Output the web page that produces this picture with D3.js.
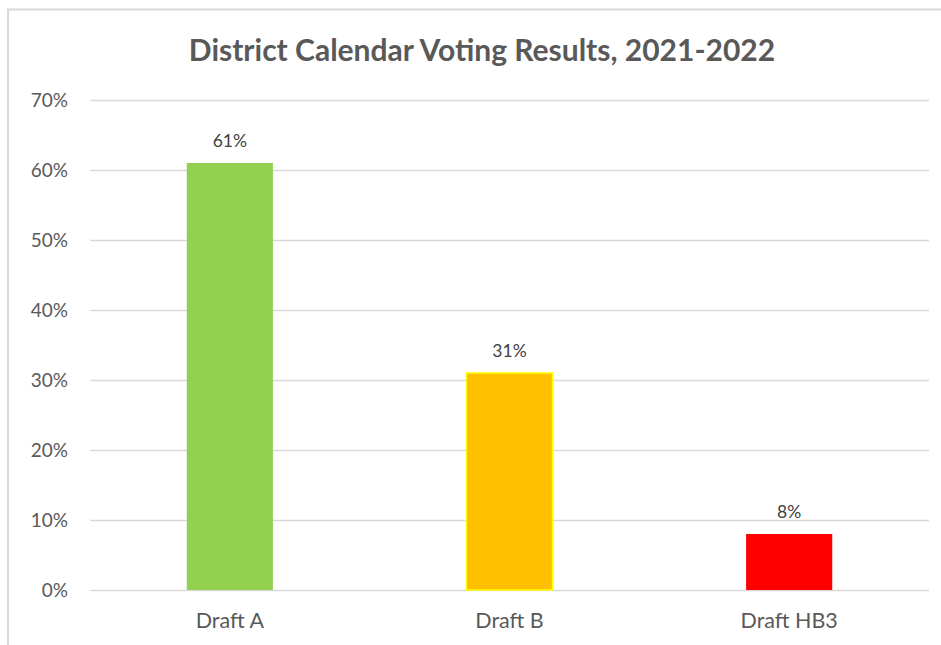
<!DOCTYPE html>
<html>
<head>
<meta charset="utf-8">
<script src="https://cdn.jsdelivr.net/npm/d3@7"></script>
<style>
  html, body { margin: 0; padding: 0; background: #fff; }
  svg { display: block; }
  text { font-family: Lato, "Open Sans", "Liberation Sans", sans-serif; }
</style>
</head>
<body>
<svg id="chart" width="941" height="645"></svg>
<script>
// Voting results per calendar draft
const categories = ["Draft A", "Draft B", "Draft HB3"];
const shares = [0.61, 0.31, 0.08];
const barFill = ["#92D050", "#FFC000", "#FF0000"];
const barStroke = ["none", "#FFFF00", "none"];
const yTicks = [0, 0.1, 0.2, 0.3, 0.4, 0.5, 0.6, 0.7];
const title = "District Calendar Voting Results, 2021-2022";

const svg = d3.select("#chart");
const W = 941, H = 645;
const plot = { left: 90, right: 929, top: 100, bottom: 590 };

// Chart area frame (only top and left edges fall inside the view)
svg.append("rect")
  .attr("x", 8).attr("y", 9.5)
  .attr("width", W + 10).attr("height", H + 10)
  .attr("fill", "#fff")
  .attr("stroke", "#d9d9d9").attr("stroke-width", 2);

const x = d3.scaleBand()
  .domain(categories)
  .range([plot.left, plot.right])
  .paddingInner(0.692)
  .paddingOuter(0.346);

const y = d3.scaleLinear()
  .domain([0, 0.7])
  .range([plot.bottom, plot.top]);

// Horizontal gridlines
svg.append("g")
  .selectAll("line")
  .data(yTicks)
  .join("line")
  .attr("x1", plot.left).attr("x2", plot.right)
  .attr("y1", d => Math.round(y(d)) + 0.5)
  .attr("y2", d => Math.round(y(d)) + 0.5)
  .attr("stroke", "#d9d9d9")
  .attr("stroke-width", 1.3);

// Y axis labels
const yAxis = d3.axisLeft(y)
  .tickValues(yTicks)
  .tickFormat(d3.format(".0%"))
  .tickSize(0)
  .tickPadding(22);
const gy = svg.append("g")
  .attr("transform", `translate(${plot.left},0)`)
  .call(yAxis);
gy.select(".domain").remove();
gy.selectAll("text")
  .attr("fill", "#595959")
  .style("font-size", "19px")
  .style("font-family", "Lato, 'Open Sans', sans-serif");

// Bars
svg.append("g")
  .selectAll("rect")
  .data(categories)
  .join("rect")
  .attr("x", d => x(d))
  .attr("width", x.bandwidth())
  .attr("y", (d, i) => y(shares[i]))
  .attr("height", (d, i) => y(0) - y(shares[i]))
  .attr("fill", (d, i) => barFill[i])
  .attr("stroke", (d, i) => barStroke[i])
  .attr("stroke-width", 1.5);

// Value labels above bars
svg.append("g")
  .selectAll("text")
  .data(categories)
  .join("text")
  .attr("x", d => x(d) + x.bandwidth() / 2)
  .attr("y", (d, i) => y(shares[i]) - 16)
  .attr("text-anchor", "middle")
  .attr("fill", "#404040")
  .style("font-size", "17.5px")
  .text((d, i) => d3.format(".0%")(shares[i]));

// X axis category labels
const xAxis = d3.axisBottom(x).tickSize(0).tickPadding(23);
const gx = svg.append("g")
  .attr("transform", `translate(0,${plot.bottom})`)
  .call(xAxis);
gx.select(".domain").remove();
gx.selectAll("text")
  .attr("fill", "#595959")
  .style("font-size", "21.5px")
  .style("font-family", "Lato, 'Open Sans', sans-serif");

// Title
svg.append("text")
  .attr("x", 482)
  .attr("y", 61)
  .attr("text-anchor", "middle")
  .attr("fill", "#595959")
  .style("font-size", "30px")
  .style("font-weight", "bold")
  .text(title);
</script>
</body>
</html>
